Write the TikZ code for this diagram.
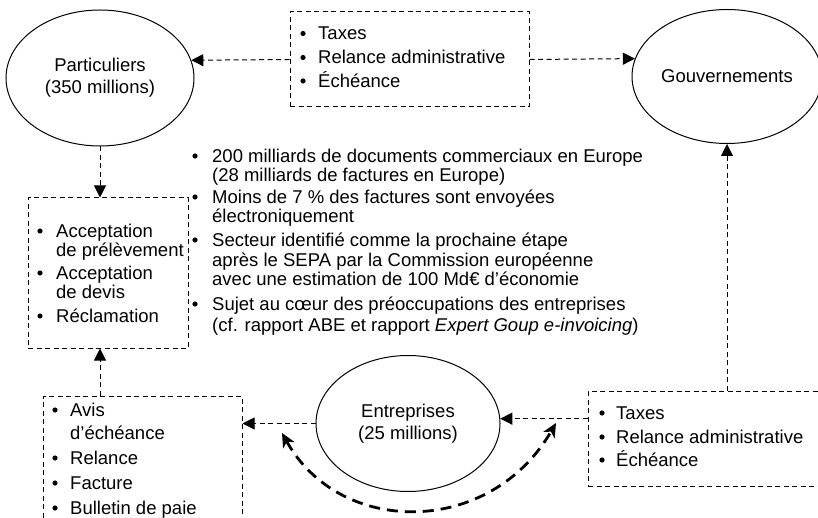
\documentclass[tikz,border=0pt]{standalone}
\usepackage{fontspec}
\setmainfont{Liberation Sans}
\usetikzlibrary{shapes.geometric,arrows.meta}
\newcommand{\tbul}[2]{\fill (#1,#2) circle (2.6pt);}
\begin{document}
\begin{tikzpicture}[x=1pt,y=-1pt,
  every node/.style={font=\fontsize{18.5}{22}\selectfont},
  ell/.style={draw, ellipse, line width=1pt, inner sep=0pt, align=center},
  dbox/.style={draw, rectangle, dash pattern=on 5pt off 3.5pt, line width=1pt, inner sep=0pt},
  conn/.style={dash pattern=on 5pt off 3.5pt, line width=1pt, -{Triangle[length=12pt,width=12pt]}},
  bigconn/.style={dash pattern=on 11pt off 7pt, line width=2.8pt,
    {Stealth[length=14pt,width=13pt,inset=4pt]}-{Stealth[length=14pt,width=13pt,inset=4pt]}},
  tl/.style={anchor=base west, inner sep=0pt},
]
\useasboundingbox (0,0) rectangle (818,518);
\clip (0,0) rectangle (818,518);

% ellipses
\node[ell, minimum width=188pt, minimum height=136pt] (part) at (100,78) {Particuliers\\(350 millions)};
\node[ell, minimum width=190pt, minimum height=134pt] (gov) at (727,76.5) {Gouvernements};
\node[ell, minimum width=184pt, minimum height=136pt] (ent) at (408,423.5) {Entreprises\\(25 millions)};

% boxes
\node[dbox, minimum width=239pt, minimum height=95pt] (tbox) at (409.5,59.5) {};
\node[dbox, minimum width=160pt, minimum height=150pt] (lbox) at (108,273) {};
\node[dbox, minimum width=199pt, minimum height=140pt] (llbox) at (142.5,466) {};
\node[dbox, minimum width=250pt, minimum height=95pt] (rbox) at (713,438.5) {};

% top box text
\tbul{303}{33.5}\node[tl] (t1) at (318,40) {Taxes};
\tbul{303}{57.5}\node[tl] (t2) at (318,64) {Relance administrative};
\tbul{303}{81}\node[tl] (t3) at (318,87.5) {Échéance};

% right box text
\tbul{602}{413}\node[tl] (r1) at (616,419.5) {Taxes};
\tbul{602}{437}\node[tl] (r2) at (616,443.5) {Relance administrative};
\tbul{602}{460}\node[tl] (r3) at (616,466.5) {Échéance};

% left box text
\tbul{40}{231}\node[tl] (l1) at (56,237.5) {Acceptation};
\node[tl] (l2) at (56,256.5) {de prélèvement};
\tbul{40}{273}\node[tl] (l3) at (56,279.5) {Acceptation};
\node[tl] (l4) at (56,298.5) {de devis};
\tbul{40}{316}\node[tl] (l5) at (56,322.5) {Réclamation};

% lower-left box text
\tbul{55}{410}\node[tl] (b1) at (70,416.5) {Avis};
\node[tl] (b2) at (70,439.5) {d’échéance};
\tbul{55}{458}\node[tl] (b3) at (70,464.5) {Relance};
\tbul{55}{483}\node[tl] (b4) at (70,489.5) {Facture};
\tbul{55}{508}\node[tl] (b5) at (70,514.5) {Bulletin de paie};

% middle text
\tbul{195}{156}\node[tl] (m1) at (212,162.5) {200 milliards de documents commerciaux en Europe};
\node[tl] (m2) at (212,182) {(28 milliards de factures en Europe)};
\tbul{195}{197}\node[tl] (m3) at (212,203.5) {Moins de 7 \% des factures sont envoyées};
\node[tl] (m4) at (212,223) {électroniquement};
\tbul{195}{240}\node[tl] (m5) at (212,246.5) {Secteur identifié comme la prochaine étape};
\node[tl] (m6) at (212,266) {après le SEPA par la Commission européenne};
\node[tl] (m7) at (212,286) {avec une estimation de 100 Md€ d’économie};
\tbul{195}{304}\node[tl] (m8) at (212,310.5) {Sujet au cœur des préoccupations des entreprises};
\node[tl] (m9) at (212,331) {(cf. rapport ABE et rapport \textit{Expert Goup e-invoicing})};

% connectors
\draw[conn] (tbox.west) -- (part.11);
\draw[conn] (tbox.east) -- (gov.169.5);
\draw[conn] (part.south) -- (part.south |- lbox.north);
\draw[conn] (llbox.north -| part.south) -- (part.south |- lbox.south);
\draw[conn] (ent.west) -- (ent.west -| llbox.east);
\draw[conn] (ent.3.7 -| rbox.west) -- (ent.3.7);
\draw[conn] (rbox.north -| gov.south) -- (gov.south);
\coordinate (cl) at (282,433);
\coordinate (cr) at (556,423);
\draw[bigconn] (cl) .. controls (340,537) and (490,537) .. (cr);
\end{tikzpicture}
\end{document}
